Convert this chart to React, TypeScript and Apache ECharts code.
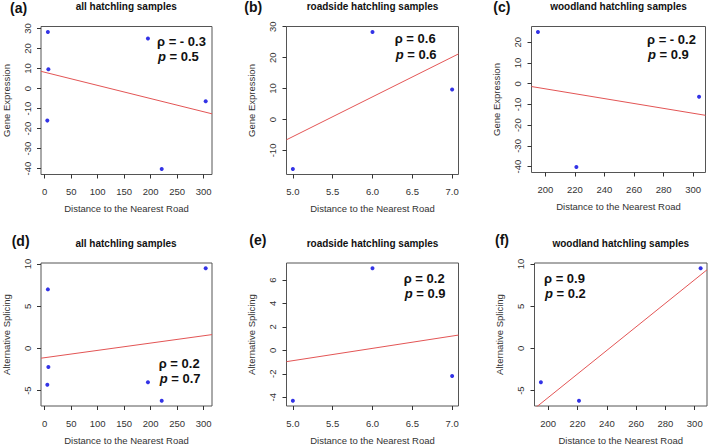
import React, { useEffect, useRef } from "react";
import * as echarts from "echarts";

// Sample measurements: distance to the nearest road, gene expression and alternative splicing
const roadsideDist = [5, 6, 7];
const roadsideGene = [-16.0, 28.3, 9.7];
const roadsideSplice = [-4.3, 7.0, -2.2];
const woodlandDist = [195, 221, 304];
const woodlandGene = [25.0, -40.2, -6.3];
const woodlandSplice = [-4.0, -6.2, 9.5];

// Panel annotations
const panelLetters = ["(a)", "(b)", "(c)", "(d)", "(e)", "(f)"];
const panelTitles = [
  "all hatchling samples",
  "roadside hatchling samples",
  "woodland hatchling samples",
  "all hatchling samples",
  "roadside hatchling samples",
  "woodland hatchling samples",
];
const rhoLabels = ["- 0.3", "0.6", "- 0.2", "0.2", "0.2", "0.9"];
const pLabels = ["0.5", "0.6", "0.9", "0.7", "0.9", "0.2"];

// Tick positions
const xTicksAll = [0, 50, 100, 150, 200, 250, 300];
const xTicksRoad = [5, 5.5, 6, 6.5, 7];
const xTicksWood = [200, 220, 240, 260, 280, 300];
const yTicksGeneAll = [-40, -30, -20, -10, 0, 10, 20, 30];
const yTicksGeneRoad = [-10, 0, 10, 20, 30];
const yTicksGeneWood = [-40, -30, -20, -10, 0, 10, 20];
const yTicksSpliceAll = [-5, 0, 5, 10];
const yTicksSpliceRoad = [-4, -2, 0, 2, 4, 6];
const yTicksSpliceWood = [-5, 0, 5, 10];

const FONT = "'Liberation Sans', Arial, Helvetica, sans-serif";
const AXIS_TEXT = "#333";

const allDist = [...roadsideDist, ...woodlandDist];

const panels = [
  { x: allDist, y: [...roadsideGene, ...woodlandGene], xTicks: xTicksAll, yTicks: yTicksGeneAll, yName: "Gene Expression", dec: 0 },
  { x: roadsideDist, y: roadsideGene, xTicks: xTicksRoad, yTicks: yTicksGeneRoad, yName: "Gene Expression", dec: 1 },
  { x: woodlandDist, y: woodlandGene, xTicks: xTicksWood, yTicks: yTicksGeneWood, yName: "Gene Expression", dec: 0 },
  { x: allDist, y: [...roadsideSplice, ...woodlandSplice], xTicks: xTicksAll, yTicks: yTicksSpliceAll, yName: "Alternative Splicing", dec: 0 },
  { x: roadsideDist, y: roadsideSplice, xTicks: xTicksRoad, yTicks: yTicksSpliceRoad, yName: "Alternative Splicing", dec: 1 },
  { x: woodlandDist, y: woodlandSplice, xTicks: xTicksWood, yTicks: yTicksSpliceWood, yName: "Alternative Splicing", dec: 0 },
];

// Plot boxes (pixels)
const boxes = [
  { left: 40.5, top: 26.5, width: 171.5, height: 148 },
  { left: 286.5, top: 26.5, width: 172, height: 148 },
  { left: 531.5, top: 26.5, width: 174, height: 146 },
  { left: 40, top: 263, width: 172, height: 144.5 },
  { left: 286.5, top: 263, width: 172, height: 144 },
  { left: 534.5, top: 263, width: 172.5, height: 144.5 },
];
const titleY = [6.7, 6.7, 6.7, 243, 243, 243];
const letterPos = [
  [10, 8.3], [244.3, 7.3], [493.3, 7.3],
  [11.7, 241.3], [249.3, 239.7], [495, 239.7],
];
const statPos = [
  [157, 41.3], [394.7, 38.8], [647, 39],
  [158.7, 363], [403.7, 278], [544, 278],
];

// Axis limits extended by 4% of the data range on each side
function extendedRange(v: number[]): [number, number] {
  const lo = Math.min(...v);
  const hi = Math.max(...v);
  const pad = (hi - lo) * 0.04;
  return [lo - pad, hi + pad];
}

// Least-squares fit y = a + b x
function leastSquares(x: number[], y: number[]): [number, number] {
  const n = x.length;
  const mx = x.reduce((s, v) => s + v, 0) / n;
  const my = y.reduce((s, v) => s + v, 0) / n;
  let sxy = 0;
  let sxx = 0;
  for (let i = 0; i < n; i++) {
    sxy += (x[i] - mx) * (y[i] - my);
    sxx += (x[i] - mx) * (x[i] - mx);
  }
  const b = sxy / sxx;
  return [my - b * mx, b];
}

function buildOption() {
  const grid: any[] = [];
  const xAxis: any[] = [];
  const yAxis: any[] = [];
  const series: any[] = [];
  const graphic: any[] = [];

  panels.forEach((p, i) => {
    const [xmin, xmax] = extendedRange(p.x);
    const [ymin, ymax] = extendedRange(p.y);
    grid.push({ ...boxes[i], show: true, borderColor: "#555", borderWidth: 1, backgroundColor: "transparent" });
    xAxis.push({
      type: "value",
      gridIndex: i,
      position: "bottom",
      min: xmin,
      max: xmax,
      name: "Distance to the Nearest Road",
      nameLocation: "middle",
      nameGap: 29,
      nameTextStyle: { fontFamily: FONT, fontSize: 9.5, color: AXIS_TEXT },
      axisLine: { show: false, onZero: false },
      splitLine: { show: false },
      axisTick: { show: true, inside: false, length: 4, lineStyle: { color: "#333" }, customValues: p.xTicks },
      axisLabel: {
        show: true,
        margin: 12,
        fontFamily: FONT,
        fontSize: 9.5,
        color: AXIS_TEXT,
        customValues: p.xTicks,
        formatter: (v: number) => v.toFixed(p.dec),
      },
    });
    yAxis.push({
      type: "value",
      gridIndex: i,
      position: "left",
      min: ymin,
      max: ymax,
      name: p.yName,
      nameLocation: "middle",
      nameRotate: 90,
      nameGap: 30,
      nameTextStyle: { fontFamily: FONT, fontSize: 9.5, color: AXIS_TEXT },
      axisLine: { show: false, onZero: false },
      splitLine: { show: false },
      axisTick: { show: true, inside: false, length: 4, lineStyle: { color: "#333" }, customValues: p.yTicks },
      axisLabel: {
        show: true,
        rotate: 90,
        margin: 9,
        fontFamily: FONT,
        fontSize: 9.5,
        color: AXIS_TEXT,
        customValues: p.yTicks,
      },
    });

    const [a, b] = leastSquares(p.x, p.y);
    series.push({
      type: "line",
      xAxisIndex: i,
      yAxisIndex: i,
      data: [
        [xmin, a + b * xmin],
        [xmax, a + b * xmax],
      ],
      showSymbol: false,
      clip: true,
      lineStyle: { color: "#e35555", width: 1 },
      silent: true,
      z: 2,
    });
    series.push({
      type: "scatter",
      xAxisIndex: i,
      yAxisIndex: i,
      data: p.x.map((xv, k) => [xv, p.y[k]]),
      symbolSize: 4,
      itemStyle: { color: "#0000e0" },
      z: 3,
    });

    const box = boxes[i];
    graphic.push({
      type: "text",
      x: box.left + box.width / 2,
      y: titleY[i],
      style: {
        text: panelTitles[i],
        fill: "#111",
        font: `bold 10px ${FONT}`,
        align: "center",
        verticalAlign: "middle",
      },
    });
    graphic.push({
      type: "text",
      x: letterPos[i][0],
      y: letterPos[i][1],
      style: {
        text: panelLetters[i],
        fill: "#111",
        font: `bold 14px ${FONT}`,
        align: "left",
        verticalAlign: "middle",
      },
    });
    graphic.push({
      type: "text",
      x: statPos[i][0],
      y: statPos[i][1],
      style: {
        text: `ρ = ${rhoLabels[i]}`,
        fill: "#111",
        font: `bold 13px ${FONT}`,
        align: "left",
        verticalAlign: "middle",
      },
    });
    graphic.push({
      type: "text",
      x: statPos[i][0] + 1,
      y: statPos[i][1] + 15.5,
      style: {
        text: `{i|p}{b| = ${pLabels[i]}}`,
        align: "left",
        verticalAlign: "middle",
        rich: {
          i: { fontFamily: FONT, fontSize: 13, fontWeight: "bold", fontStyle: "italic", fill: "#111" },
          b: { fontFamily: FONT, fontSize: 13, fontWeight: "bold", fill: "#111" },
        },
      },
    });
  });

  return {
    animation: false,
    backgroundColor: "#ffffff",
    textStyle: { fontFamily: FONT },
    grid,
    xAxis,
    yAxis,
    series,
    graphic,
  };
}

export default function App() {
  const ref = useRef<HTMLDivElement>(null);
  useEffect(() => {
    if (!ref.current) return;
    const chart = echarts.init(ref.current, undefined, { renderer: "svg" });
    chart.setOption(buildOption() as any);
    return () => chart.dispose();
  }, []);
  return (
    <div
      ref={ref}
      style={{ position: "fixed", left: 0, top: 0, width: 709, height: 446, background: "#fff" }}
    />
  );
}
